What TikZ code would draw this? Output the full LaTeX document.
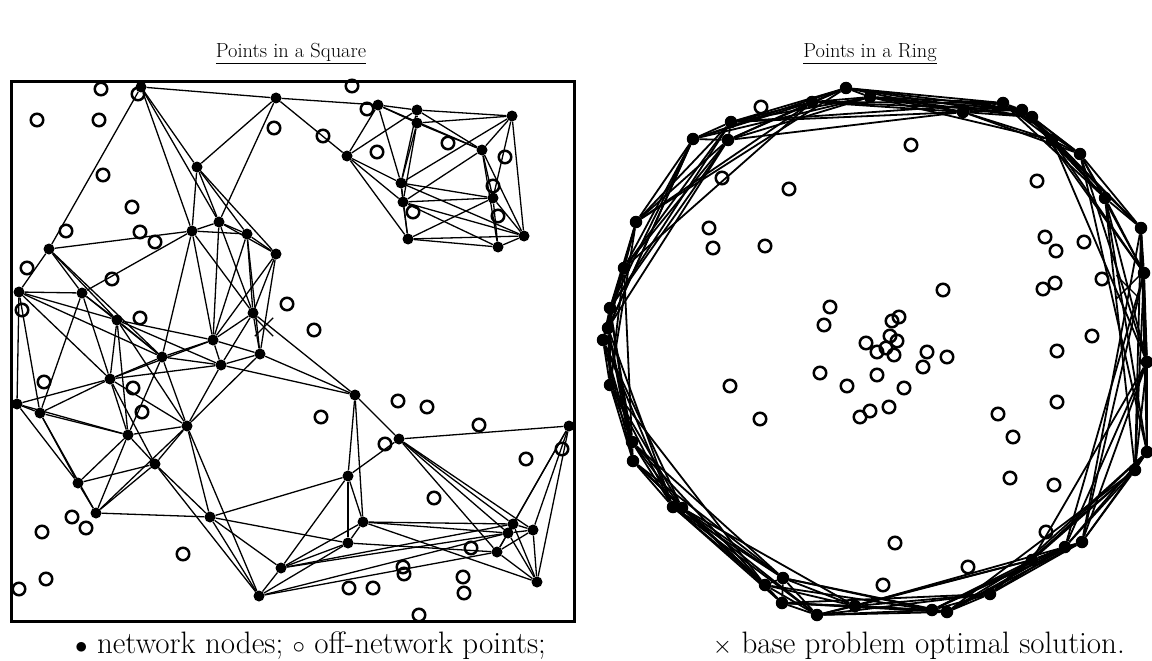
\documentclass[tikz,border=0pt]{standalone}
\usetikzlibrary{backgrounds,shapes.misc}
\begin{document}
\begin{tikzpicture}[x=1pt,y=-1pt,
  nn/.style={circle,fill=black,inner sep=0pt,minimum size=11pt},
  rn/.style={circle,fill=black,inner sep=0pt,minimum size=12.5pt},
  hp/.style={circle,draw=black,line width=2.5pt,inner sep=0pt,minimum size=12.5pt},
  ed/.style={line width=1.3pt},
  ringed/.style={line width=1.8pt},
  xmark/.style={draw=black,cross out,line width=1.4pt,inner sep=0pt,minimum size=17pt},
  ttl/.style={font=\fontsize{20.4}{24}\selectfont},
  captxt/.style={font=\fontsize{31}{36}\selectfont,inner sep=0pt}]
\useasboundingbox (0,0) rectangle (1152,661);
% titles
\node[ttl,anchor=base] (t1) at (291,58) {\underline{Points in a Square}};
\node[ttl,anchor=base] (t2) at (870,58) {\underline{Points in a Ring}};
% square frame
\draw[line width=3pt] (11.5,82) rectangle (574,621);
% left network nodes
\foreach \n/\x/\y in {1/141/87,2/276/98,3/378/105,4/417/110,5/417/123,6/512/116,7/347/156,8/482/150,
 9/401/183,10/403/202,11/493/198,12/408/239,13/498/247,14/524/236,15/197/167,16/219/222,17/192/231,
 18/247/234,19/276/254,20/253/313,21/213/340,22/260/354,23/49/249,24/19/292,25/82/293,26/117/320,
 27/162/357,28/221/365,29/110/379,30/17/404,31/40/413,32/187/426,33/128/435,34/155/464,35/78/483,
 36/96/513,37/355/395,38/348/476,39/363/522,40/348/543,41/210/517,42/281/568,43/259/596,44/399/439,
 45/569/426,46/513/524,47/508/533,48/533/530,49/497/552,50/537/582}
  \node[nn] (a\n) at (\x,\y) {};
% left edges
\begin{scope}[on background layer]
\foreach \p/\q in {1/2,1/15,1/16,1/17,1/23,2/3,2/7,2/15,2/16,
 3/4,3/5,3/7,3/8,3/9,4/5,4/6,4/8,4/9,5/6,5/8,5/9,5/10,6/8,6/9,6/11,6/14,7/4,7/9,7/10,7/12,
 8/10,8/11,8/13,8/14,9/10,9/11,9/12,9/14,10/11,10/12,10/13,10/14,11/12,11/13,11/14,12/13,12/14,13/14,
 15/16,15/17,15/18,15/19,16/17,16/18,16/19,16/20,16/21,17/18,17/20,17/21,17/23,17/25,17/27,
 18/19,18/20,18/21,18/22,19/20,19/21,19/22,20/21,20/22,20/28,20/37,21/22,21/27,21/28,21/26,21/29,
 22/28,22/37,22/32,23/24,23/25,23/26,23/27,24/25,24/26,24/27,24/29,24/30,24/31,25/26,25/27,25/29,25/31,
 26/27,26/28,26/29,26/32,26/33,27/28,27/29,27/32,27/33,28/29,28/32,28/37,29/30,29/31,29/32,29/33,29/34,
 30/31,30/33,30/35,31/33,31/35,31/36,32/33,32/34,32/36,32/41,32/43,33/34,33/35,33/36,34/35,34/36,
 34/41,34/43,35/36,36/41,
 37/38,37/39,37/44,38/39,38/40,38/41,38/42,38/44,39/40,39/42,39/46,39/47,39/50,40/41,40/42,40/43,40/49,
 41/42,41/43,42/43,42/46,42/47,43/47,43/49,44/45,44/46,44/47,44/48,44/49,45/46,45/47,45/48,45/50,
 46/47,46/48,46/49,46/50,47/48,47/49,47/50,48/50,49/50,48/49}
  \draw[ed] (a\p) -- (a\q);
\end{scope}
% left off-network points
\foreach \x/\y [count=\i] in {101/89,37/120,99/120,138/94,103/175,132/207,66/231,140/232,155/242,
 27/268,112/279,22/310,140/318,352/86,274/128,323/136,367/109,377/152,287/304,314/330,448/143,
 505/157,493/186,413/212,498/216,44/382,133/388,142/412,72/517,86/528,42/532,183/554,46/579,19/589,
 321/417,385/444,349/588,373/588,398/401,427/407,479/425,562/449,526/459,434/498,471/548,403/567,
 404/574,463/577,464/593,419/615}
  \node[hp] (h\i) at (\x,\y) {};
\node[xmark] (xl) at (264,327) {};
% ring nodes
\foreach \n/\x/\y in {1/846/88,2/870/97,3/963/112,4/1003/103,5/1022/110,6/1032/117,7/1052/140,
 8/1080/154,9/1105/198,10/1141/228,11/1144/273,12/1147/362,13/1147/452,14/1135/470,15/1082/542,
 16/1065/547,17/1032/560,18/990/594,19/947/612,20/932/610,21/855/606,22/817/615,23/782/603,24/783/578,
 25/765/585,26/682/508,27/673/507,28/633/461,29/632/442,30/610/385,31/603/340,32/608/328,33/610/308,
 34/624/268,35/636/222,36/693/139,37/728/140,38/731/122,39/812/102}
  \node[rn] (r\n) at (\x,\y) {};
\begin{scope}[on background layer]
\foreach \i in {1,...,39}{
  \foreach \k in {1,2,3,4,5}{
    \pgfmathtruncatemacro\j{mod(\i+\k-1,39)+1}
    \draw[ringed] (r\i) -- (r\j);
  }
}
\end{scope}
% ring off-network points
\foreach \x/\y [count=\i] in {761/107,722/178,789/189,709/228,713/248,765/246,911/145,1037/181,
 1045/237,1056/251,1084/242,1102/279,1055/283,1043/289,943/290,1092/336,1057/351,
 830/307,824/325,899/317,892/321,890/336,897/341,866/343,877/352,886/348,894/355,927/352,947/357,
 923/367,820/373,847/386,877/375,904/388,889/407,870/411,860/417,730/386,760/419,
 1057/402,998/414,1013/437,1010/478,1054/485,1046/532,895/543,968/567,883/585}
  \node[hp] (g\i) at (\x,\y) {};
\node[xmark,minimum size=22pt] (xr) at (1128,287) {};
% caption
\node[captxt,anchor=base west] (cp1) at (75,653) {$\bullet$ network nodes; $\circ$ off-network points;};
\node[captxt,anchor=base east] (cp2) at (1125,653) {$\times$ base problem optimal solution.};
\end{tikzpicture}
\end{document}
